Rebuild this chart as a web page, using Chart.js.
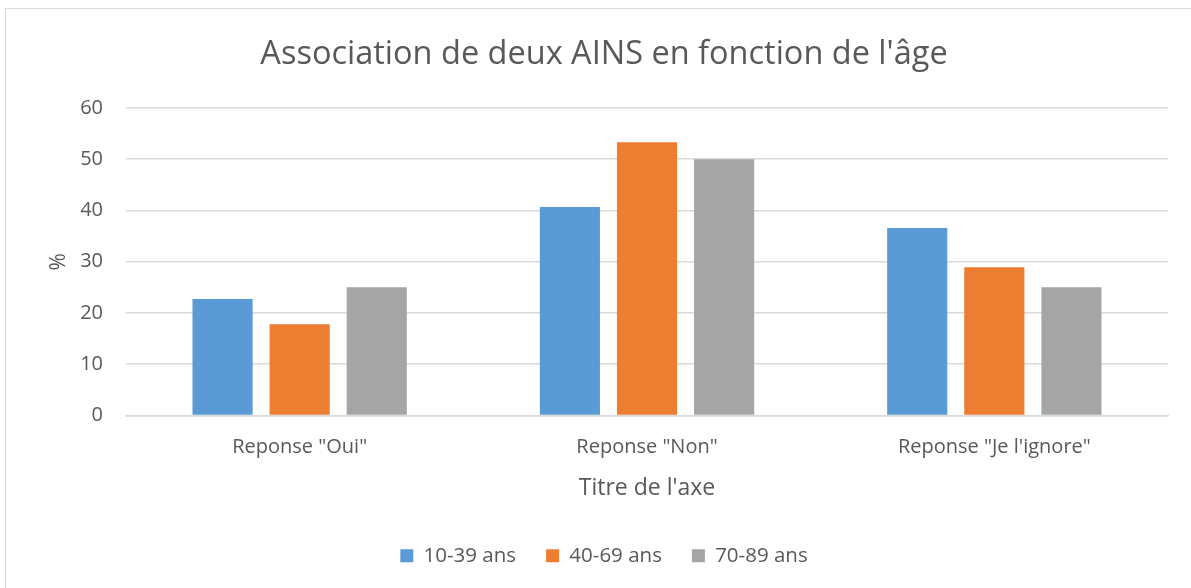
<!DOCTYPE html>
<html>
<head>
<meta charset="utf-8">
<script src="https://cdn.jsdelivr.net/npm/chart.js@4"></script>
<style>
    html, body { margin: 0; padding: 0; background: #fff; overflow: hidden; }
    #frame {
        position: absolute; left: 5px; top: 8px; width: 1200px; height: 600px;
        border: 1.5px solid #d9d9d9; box-sizing: border-box;
    }
    #wrap { position: absolute; left: 0; top: 0; width: 1191px; height: 588px; }
</style>
</head>
<body>
<div id="frame"></div>
<div id="wrap"><canvas id="age_chart" width="1191" height="588"></canvas></div>
<script>
// Data
var categories = ['Reponse "Oui"', 'Reponse "Non"', 'Reponse "Je l\'ignore"'];
var seriesNames = ['10-39 ans', '40-69 ans', '70-89 ans'];
var age10to39 = [22.7, 40.7, 36.6];
var age40to69 = [17.8, 53.3, 28.9];
var age70to89 = [25, 50, 25];
var yTicks = [0, 10, 20, 30, 40, 50, 60];

var colors = ['#5b9bd5', '#ed7d31', '#a5a5a5'];
var textColor = '#595959';
var fontFamily = '"Open Sans", Lato, sans-serif';

document.addEventListener('DOMContentLoaded', function () {
    var ctx = document.getElementById('age_chart').getContext('2d');
    var allSeries = [age10to39, age40to69, age70to89];
    var chart = new Chart(ctx, {
        type: 'bar',
        data: {
            labels: categories,
            datasets: allSeries.map(function (values, i) {
                return {
                    label: seriesNames[i],
                    data: values,
                    backgroundColor: colors[i],
                    borderWidth: 0,
                    barPercentage: 0.78,
                    categoryPercentage: 0.666
                };
            })
        },
        options: {
            responsive: false,
            animation: false,
            layout: { padding: { left: 40, right: 23, top: 10, bottom: 12 } },
            plugins: {
                title: {
                    display: true,
                    text: "Association de deux AINS en fonction de l'âge",
                    color: textColor,
                    font: { family: fontFamily, size: 32.5, weight: 'normal' },
                    padding: { top: 25.5, bottom: 33.5 }
                },
                legend: {
                    position: 'bottom',
                    labels: {
                        color: textColor,
                        font: { family: fontFamily, size: 20.5 },
                        boxWidth: 13,
                        boxHeight: 13,
                        padding: 30
                    }
                },
                tooltip: { enabled: false }
            },
            scales: {
                x: {
                    grid: { display: false },
                    border: { color: '#d9d9d9', width: 1.5 },
                    ticks: { color: textColor, font: { family: fontFamily, size: 20 }, padding: 12 },
                    title: {
                        display: true,
                        text: "Titre de l'axe",
                        color: textColor,
                        font: { family: fontFamily, size: 23 },
                        padding: { top: 3, bottom: 13.5 }
                    }
                },
                y: {
                    min: 0,
                    max: 60,
                    afterBuildTicks: function (axis) {
                        axis.ticks = yTicks.map(function (v) { return { value: v }; });
                    },
                    afterFit: function (axis) {
                        axis.width = 86;
                    },
                    grid: { color: '#d9d9d9', lineWidth: 1.5, drawTicks: false },
                    border: { display: false },
                    ticks: { color: textColor, font: { family: fontFamily, size: 20 }, padding: 23 },
                    title: {
                        display: true,
                        text: '%',
                        color: textColor,
                        font: { family: fontFamily, size: 21 },
                        padding: { top: 6, bottom: 0 }
                    }
                }
            }
        }
    });
});
</script>
</body>
</html>
